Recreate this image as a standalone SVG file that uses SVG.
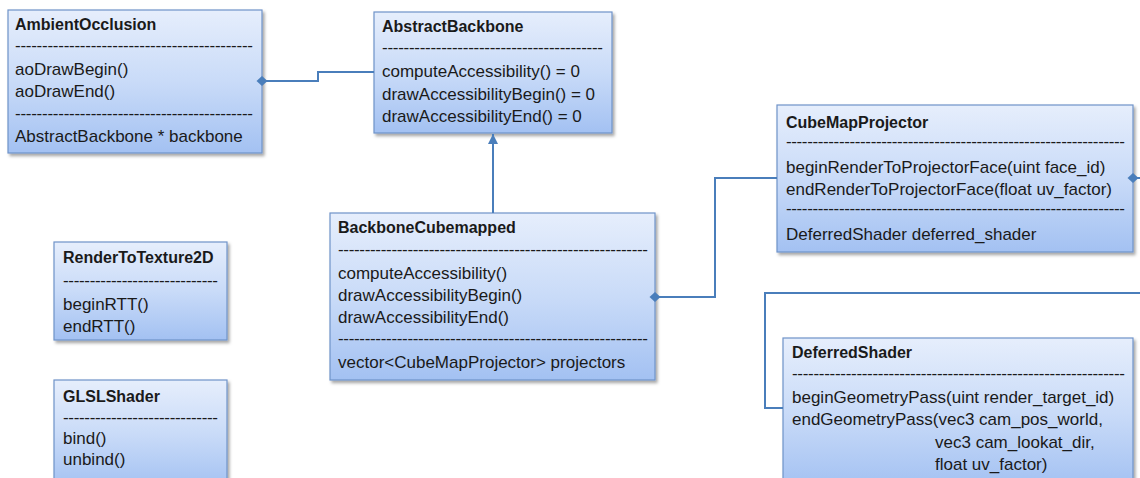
<svg xmlns="http://www.w3.org/2000/svg" width="1140" height="478" viewBox="0 0 1140 478">
<style>
  text { font-family: "Liberation Sans", Arial, sans-serif; font-size: 17px; fill: #1a1a1a; }
  .t { font-weight: bold; font-size: 16px; }
  .box { fill: url(#g); stroke: #6f93c9; stroke-width: 1.2; filter: url(#sh); }
  .c { fill: none; stroke: #4a7ebb; stroke-width: 2; }
</style>
<defs>
  <linearGradient id="g" x1="0" y1="0" x2="0" y2="1">
    <stop offset="0" stop-color="#e6eefc"/>
    <stop offset="0.5" stop-color="#c9dbf8"/>
    <stop offset="1" stop-color="#a3c1f2"/>
  </linearGradient>
  <filter id="sh" x="-5%" y="-5%" width="115%" height="120%">
    <feDropShadow dx="2" dy="2.5" stdDeviation="1.5" flood-color="#000" flood-opacity="0.35"/>
  </filter>
  <marker id="dia" markerWidth="12" markerHeight="12" refX="6" refY="6" orient="auto" markerUnits="userSpaceOnUse">
    <path d="M0.5,6 L6,1 L11.5,6 L6,11 Z" fill="#4a7ebb"/>
  </marker>
  <marker id="tri" markerWidth="12" markerHeight="12" refX="11" refY="6" orient="auto" markerUnits="userSpaceOnUse">
    <path d="M1,1 L11,6 L1,11 Z" fill="#4a7ebb"/>
  </marker>
</defs>

<g id="AmbientOcclusion">
  <rect class="box" x="8" y="10" width="254" height="143"/>
  <text class="t" x="15" y="30">AmbientOcclusion</text>
  <text x="15" y="51" textLength="238" lengthAdjust="spacing">--------------------------------------------</text>
  <text x="15" y="75">aoDrawBegin()</text>
  <text x="15" y="97">aoDrawEnd()</text>
  <text x="15" y="119" textLength="238" lengthAdjust="spacing">--------------------------------------------</text>
  <text x="15" y="142">AbstractBackbone * backbone</text>
</g>

<g id="AbstractBackbone">
  <rect class="box" x="374" y="12" width="238" height="121"/>
  <text class="t" x="382" y="32">AbstractBackbone</text>
  <text x="382" y="53" textLength="221" lengthAdjust="spacing">-----------------------------------------</text>
  <text x="382" y="77">computeAccessibility() = 0</text>
  <text x="382" y="100">drawAccessibilityBegin() = 0</text>
  <text x="382" y="122">drawAccessibilityEnd() = 0</text>
</g>

<g id="BackboneCubemapped">
  <rect class="box" x="330" y="213" width="325" height="167"/>
  <text class="t" x="338" y="233">BackboneCubemapped</text>
  <text x="338" y="255" textLength="310" lengthAdjust="spacing">----------------------------------------------------------</text>
  <text x="338" y="279">computeAccessibility()</text>
  <text x="338" y="301">drawAccessibilityBegin()</text>
  <text x="338" y="323">drawAccessibilityEnd()</text>
  <text x="338" y="344" textLength="310" lengthAdjust="spacing">----------------------------------------------------------</text>
  <text x="338" y="368">vector&lt;CubeMapProjector&gt; projectors</text>
</g>

<g id="CubeMapProjector">
  <rect class="box" x="777" y="105" width="356" height="147"/>
  <text class="t" x="786" y="128">CubeMapProjector</text>
  <text x="786" y="147" textLength="339" lengthAdjust="spacing">----------------------------------------------------------------</text>
  <text x="786" y="173">beginRenderToProjectorFace(uint face_id)</text>
  <text x="786" y="195">endRenderToProjectorFace(float uv_factor)</text>
  <text x="786" y="214" textLength="339" lengthAdjust="spacing">----------------------------------------------------------------</text>
  <text x="786" y="240">DeferredShader deferred_shader</text>
</g>

<g id="DeferredShader">
  <rect class="box" x="783" y="338" width="350" height="150"/>
  <text class="t" x="792" y="358">DeferredShader</text>
  <text x="792" y="379" textLength="333" lengthAdjust="spacing">--------------------------------------------------------------</text>
  <text x="792" y="403">beginGeometryPass(uint render_target_id)</text>
  <text x="792" y="425">endGeometryPass(vec3 cam_pos_world,</text>
  <text x="935" y="448">vec3 cam_lookat_dir,</text>
  <text x="935" y="470">float uv_factor)</text>
</g>

<g id="RenderToTexture2D">
  <rect class="box" x="54" y="242" width="173" height="98"/>
  <text class="t" x="63" y="263">RenderToTexture2D</text>
  <text x="63" y="286" textLength="155" lengthAdjust="spacing">-----------------------------</text>
  <text x="63" y="310">beginRTT()</text>
  <text x="63" y="332">endRTT()</text>
</g>

<g id="GLSLShader">
  <rect class="box" x="54" y="380" width="173" height="108"/>
  <text class="t" x="63" y="402">GLSLShader</text>
  <text x="63" y="423" textLength="155" lengthAdjust="spacing">-----------------------------</text>
  <text x="63" y="444">bind()</text>
  <text x="63" y="465">unbind()</text>
</g>

<g id="connectors">
  <path class="c" d="M262,81 H318 V72 H374" marker-start="url(#dia)"/>
  <path class="c" d="M493,213 V134" marker-end="url(#tri)"/>
  <path class="c" d="M655,297 H715 V178 H777" marker-start="url(#dia)"/>
  <path class="c" d="M1133,178 H1142" marker-start="url(#dia)"/>
  <path class="c" d="M1142,293 H765 V408 H783"/>
</g>
</svg>
